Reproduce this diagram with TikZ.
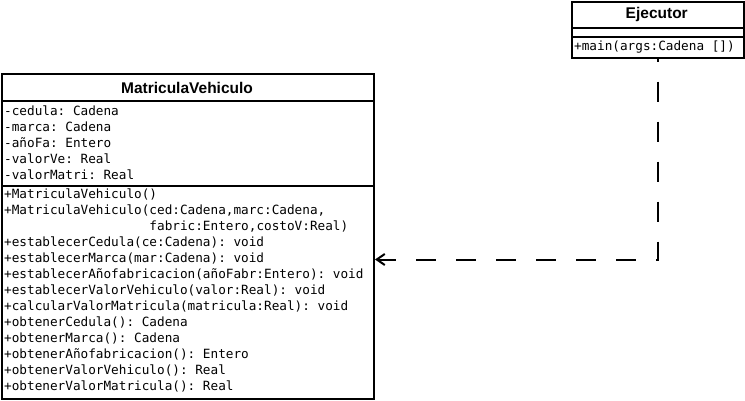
\documentclass[tikz,border=0pt]{standalone}
\usepackage{fontspec}
\setmainfont{Liberation Sans}
\setmonofont{DejaVu Sans Mono}
\usetikzlibrary{arrows.meta}
\tikzset{
  umlbox/.style={draw, line width=2pt, rectangle, inner sep=0pt, anchor=north west},
  divider/.style={line width=2pt},
  member/.style={anchor=base west, inner sep=0pt, font=\ttfamily\fontsize{12.7}{15}\selectfont},
  umltitle/.style={anchor=base, inner sep=0pt, font=\bfseries\fontsize{15.5}{18}\selectfont},
  depend/.style={line width=2pt, dash pattern=on 20pt off 20pt, dash phase=17pt,
    -{Straight Barb[length=8pt,width=11pt]}}
}
\begin{document}
\begin{tikzpicture}[x=1pt,y=-1pt]
\useasboundingbox[fill=white] (0,0) rectangle (745,401);

% ---- Ejecutor ----
\node[umlbox, minimum width=171.5pt, minimum height=55.7pt] (ej) at (571,1) {};
\node[umltitle] (ejT) at (656.75,18.5) {Ejecutor};
\draw[divider] (571,28.5) -- (742.5,28.5);
\draw[divider] (571,37) -- (742.5,37);
\node[member] (ejM) at (574,50.5) {+main(args:Cadena [])};

% ---- MatriculaVehiculo ----
\node[umlbox, minimum width=372pt, minimum height=324pt] (mv) at (1,73.5) {};
\node[umltitle] (mvT) at (187,94) {MatriculaVehiculo};
\draw[divider] (1,101) -- (373,101);
\draw[divider] (1,186) -- (373,186);

\node[member] (a1) at (4,115.5) {-cedula: Cadena};
\node[member] (a2) at (4,131.5) {-marca: Cadena};
\node[member] (a3) at (4,147.5) {-añoFa: Entero};
\node[member] (a4) at (4,163.5) {-valorVe: Real};
\node[member] (a5) at (4,179.5) {-valorMatri: Real};

\node[member] (m1) at (4,198.5) {+MatriculaVehiculo()};
\node[member] (m2) at (4,214.5) {+MatriculaVehiculo(ced:Cadena,marc:Cadena,};
\node[member] (m2b) at (4,230.5) {\phantom{+MatriculaVehiculo(}fabric:Entero,costoV:Real)};
\node[member] (m3) at (4,246.5) {+establecerCedula(ce:Cadena): void};
\node[member] (m4) at (4,262.5) {+establecerMarca(mar:Cadena): void};
\node[member] (m5) at (4,278.5) {+establecerAñofabricacion(añoFabr:Entero): void};
\node[member] (m6) at (4,294.5) {+establecerValorVehiculo(valor:Real): void};
\node[member] (m7) at (4,310.5) {+calcularValorMatricula(matricula:Real): void};
\node[member] (m8) at (4,326.5) {+obtenerCedula(): Cadena};
\node[member] (m9) at (4,342.5) {+obtenerMarca(): Cadena};
\node[member] (m10) at (4,358.5) {+obtenerAñofabricacion(): Entero};
\node[member] (m11) at (4,374.5) {+obtenerValorVehiculo(): Real};
\node[member] (m12) at (4,390.5) {+obtenerValorMatricula(): Real};

% ---- dependency ----
\coordinate (tgt) at (mv.east |- 0,259.5);
\draw[depend] (ej.south) |- (tgt);
\end{tikzpicture}
\end{document}
